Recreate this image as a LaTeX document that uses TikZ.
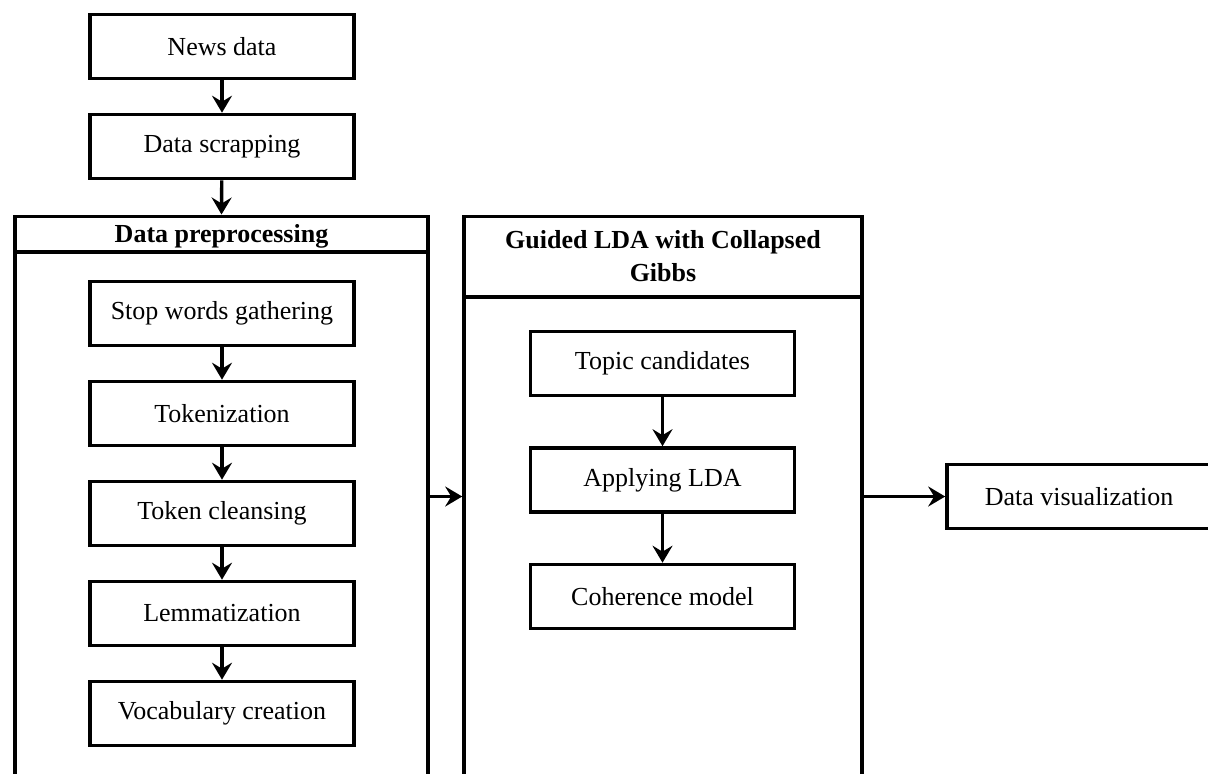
\documentclass[tikz,border=0pt]{standalone}
\usepackage{fontspec}
\setmainfont{Liberation Serif}
\usetikzlibrary{arrows.meta}
\begin{document}
\begin{tikzpicture}[x=1pt,y=-1pt,
  box/.style={draw, line width=3.6pt, minimum width=264pt, minimum height=64pt, inner sep=0pt, font=\fontsize{26}{30}\selectfont},
  frame/.style={draw, line width=3.6pt, inner sep=0pt},
  head/.style={font=\fontsize{26}{33}\selectfont\bfseries, align=center, inner sep=0pt},
  arr/.style={line width=3.4pt, -{Stealth[length=17pt,width=20pt,inset=6pt]}}
]
\useasboundingbox (0,0) rectangle (1208,774);
\clip (0,0) rectangle (1208,774);
\fill[white] (0,0) rectangle (1208,774);

% top chain
\node[box] (news) at (222,46.5) {News data};
\node[box] (scrap) at (222,146.5) {Data scrapping};

% data preprocessing container
\node[frame, minimum width=413pt, minimum height=600pt, anchor=north] (prep) at (221.5,214.5) {};
\node[head, anchor=base] (preph) at (221.5,242) {Data preprocessing};
\coordinate (prepl) at (15,252);
\coordinate (prepr) at (428,252);
\draw[line width=3.6pt] (prepl) -- (prepr);

\node[box] (stop) at (222,313.5) {Stop words gathering};
\node[box] (tok) at (222,413.5) {Tokenization};
\node[box] (clean) at (222,513.5) {Token cleansing};
\node[box] (lem) at (222,613.5) {Lemmatization};
\node[box] (voc) at (222,713.5) {Vocabulary creation};

% guided LDA container
\node[frame, minimum width=398pt, minimum height=600pt, anchor=north] (guided) at (663,214.5) {};
\node[head] (guidedh) at (663,256.5) {Guided LDA with Collapsed\\Gibbs};
\coordinate (guidedl) at (464,297);
\coordinate (guidedr) at (862,297);
\draw[line width=3.6pt] (guidedl) -- (guidedr);

\node[box] (topic) at (662.5,363.5) {Topic candidates};
\node[box] (apply) at (662.5,480) {Applying LDA};
\node[box] (coh) at (662.5,596.5) {Coherence model};

% data visualization
\node[box] (viz) at (1079,496.5) {Data visualization};

% connectors
\draw[arr] (news) -- (scrap);
\draw[arr] (scrap) -- (prep.north);
\draw[arr] (stop) -- (tok);
\draw[arr] (tok) -- (clean);
\draw[arr] (clean) -- (lem);
\draw[arr] (lem) -- (voc);
\draw[arr] (topic) -- (apply);
\draw[arr] (apply) -- (coh);
\draw[arr] (prep.east |- viz.west) -- (guided.west |- viz.west);
\draw[arr] (guided.east |- viz.west) -- (viz.west);
\end{tikzpicture}
\end{document}
